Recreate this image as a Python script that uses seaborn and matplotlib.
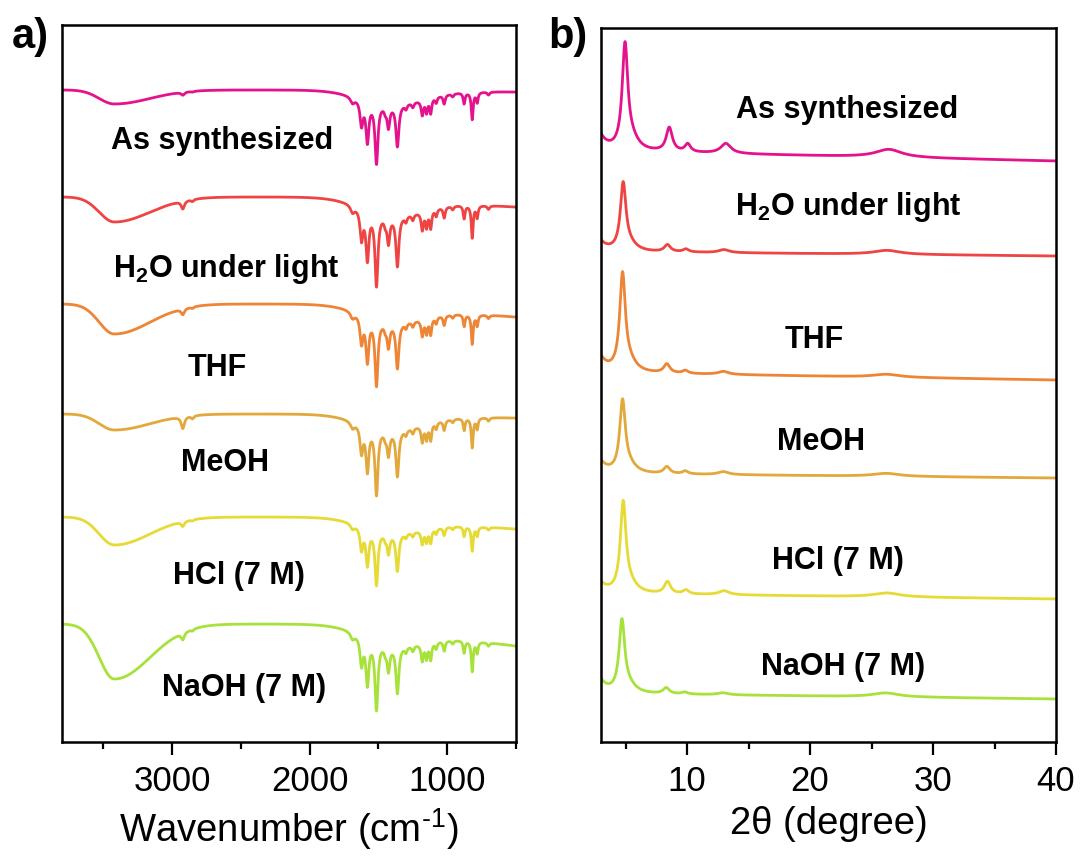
import numpy as np
import pandas as pd
import matplotlib
matplotlib.use("Agg")
import matplotlib.pyplot as plt
from matplotlib.ticker import MultipleLocator
import seaborn as sns

# ---------------------------------------------------------------- data
samples = ["As synthesized", "H$_2$O under light", "THF", "MeOH",
           "HCl (7 M)", "NaOH (7 M)"]
colors = ["#E4128C", "#EE4444", "#EE8536", "#E3A83C", "#E6DA34", "#A7E23A"]

# FTIR (a): stacked transmittance, offsets in a.u.
ir_level = [652, 545, 438, 328, 225, 118]        # level at 3800 cm-1
ir_oh_depth = [14, 25, 30, 16, 28, 55]            # O-H band near 3420 cm-1
ir_ch_depth = [3, 8, 6, 12, 5, 7]                 # C-H band near 2920 cm-1
ir_fp_scale = [1.0, 1.2, 1.09, 1.1, 0.9, 1.12]    # fingerprint intensity
ir_broad_depth = [13, 15, 14, 14, 12, 15]         # broad absorption 1700-1000
ir_tail_drop = [2, 10, 13, 4, 12, 22]             # low-wavenumber decline

fp_center = [1688, 1623, 1580, 1514, 1450, 1427, 1362, 1300, 1250, 1181,
             1150, 1120, 1080, 1022, 960, 877, 818, 782, 700]
fp_depth = [6, 25, 40, 60, 5, 22, 42, 5, 5, 15, 13, 15, 6, 9, 3, 11, 27, 10, 3]
fp_hwhm = [18, 13, 13, 13, 10, 12, 13, 10, 10, 10, 9, 9, 9, 9, 10, 8, 8, 8, 10]

# PXRD (b): stacked intensity, offsets in a.u.
xrd_pos = [4.95, 5.5, 8.55, 10.05, 13.15, 26.4]
xrd_fwhm = [0.55, 1.4, 0.6, 0.55, 1.0, 2.6]
xrd_shift = [0.0, -0.15, -0.2, -0.2, -0.15, -0.25]
xrd_height = [
    [103, 10, 24, 8, 10, 8],
    [66, 6, 7, 3, 3, 4],
    [95, 9, 9, 3, 3, 3],
    [70, 7, 7, 3, 3, 3],
    [88, 8, 12, 4, 4, 4],
    [70, 7, 6, 2, 2, 4],
]
xrd_low_angle = [15, 10, 15, 12, 10, 13]
xrd_end_level = [581, 486, 362, 264, 143, 43]
xrd_slope = [0.27, 0.12, 0.2, 0.12, 0.15, 0.15]

# ---------------------------------------------------------------- curves
wn = np.arange(3800.0, 499.0, -1.0)
tt = np.arange(3.0, 40.001, 0.02)


def lorentz(x, c, g):
    return 1.0 / (1.0 + ((x - c) / g) ** 2)


rows_ir = []
for i, name in enumerate(samples):
    oh_sig = np.where(wn > 3420, 110.0, 260.0)
    oh = ir_oh_depth[i] * np.exp(-0.5 * ((wn - 3420) / oh_sig) ** 2)
    ch = ir_ch_depth[i] * (lorentz(wn, 2922, 14) + 0.25 * lorentz(wn, 2852, 12))
    broad = ir_broad_depth[i] * np.exp(-0.5 * ((wn - 1400) / 230.0) ** 2)
    fp = sum(d * lorentz(wn, c, g) for c, d, g in zip(fp_center, fp_depth, fp_hwhm))
    tail = ir_tail_drop[i] * np.clip((1700 - wn) / 1200.0, 0, 1)
    y = ir_level[i] - oh - ch - broad - ir_fp_scale[i] * fp - tail
    rows_ir.append(pd.DataFrame({"x": wn, "y": y, "sample": name}))
ir_df = pd.concat(rows_ir, ignore_index=True)

rows_xrd = []
for i, name in enumerate(samples):
    bg = xrd_end_level[i] + xrd_slope[i] * (40 - tt)
    low = xrd_low_angle[i] * np.exp(-(tt - 3.0) / 0.6)
    pk = sum(h * lorentz(tt, p + xrd_shift[i], w / 2.0)
             for p, w, h in zip(xrd_pos, xrd_fwhm, xrd_height[i]))
    rows_xrd.append(pd.DataFrame({"x": tt, "y": bg + low + pk, "sample": name}))
xrd_df = pd.concat(rows_xrd, ignore_index=True)

# ---------------------------------------------------------------- style
sns.set_style("ticks")
plt.rcParams["font.family"] = ["Liberation Sans", "DejaVu Sans"]
plt.rcParams["mathtext.default"] = "regular"
for key in ("text.color", "axes.labelcolor", "xtick.color", "ytick.color",
            "axes.edgecolor"):
    plt.rcParams[key] = "black"

palette = dict(zip(samples, colors))
fig = plt.figure(figsize=(10.81, 8.6), dpi=100)
ax_a = fig.add_axes([0.0574, 0.1372, 0.4199, 0.8338])
ax_b = fig.add_axes([0.5560, 0.1372, 0.4209, 0.8302])

sns.lineplot(data=ir_df, x="x", y="y", hue="sample", palette=palette,
             sort=False, estimator=None, legend=False, linewidth=2.0, ax=ax_a)
sns.lineplot(data=xrd_df, x="x", y="y", hue="sample", palette=palette,
             sort=False, estimator=None, legend=False, linewidth=2.0, ax=ax_b)

ax_a.set_xlim(3800, 500)
ax_a.set_ylim(0, 717)
ax_b.set_xlim(3, 40)
ax_b.set_ylim(0, 714)

ax_a.xaxis.set_major_locator(MultipleLocator(1000))
ax_a.xaxis.set_minor_locator(MultipleLocator(500))
ax_b.xaxis.set_major_locator(MultipleLocator(10))
ax_b.xaxis.set_minor_locator(MultipleLocator(5))

for ax in (ax_a, ax_b):
    ax.set_yticks([])
    for sp in ax.spines.values():
        sp.set_linewidth(1.8)
        sp.set_color("black")
        sp.set_visible(True)
    ax.tick_params(axis="x", which="major", direction="out", length=9.5,
                   width=1.6, labelsize=25, pad=7, color="black",
                   labelcolor="black")
    ax.tick_params(axis="x", which="minor", direction="out", length=5,
                   width=1.6, color="black")
    ax.set_ylabel("")

ax_a.set_xlabel("Wavenumber (cm$^{\u20101}$)", fontsize=27.5, labelpad=6,
                color="black")
ax_b.set_xlabel("2θ (degree)", fontsize=27.5, labelpad=6, color="black")

lab_a = [(2638, 601), (2609, 473), (2674, 374), (2616, 279), (2514, 166), (2478, 54)]
lab_b = [(23.0, 632), (23.1, 535), (20.3, 402), (20.9, 300), (22.3, 181), (22.7, 75)]
for name, (x, y) in zip(samples, lab_a):
    ax_a.text(x, y, name, fontsize=22, fontweight="bold", ha="center",
              va="center", color="black")
for name, (x, y) in zip(samples, lab_b):
    ax_b.text(x, y, name, fontsize=22, fontweight="bold", ha="center",
              va="center", color="black")

fig.text(0.011, 0.944, "a)", fontsize=30, fontweight="bold", va="baseline",
         color="black")
fig.text(0.507, 0.944, "b)", fontsize=30, fontweight="bold", va="baseline",
         color="black")

fig.savefig("out.png", dpi=100, facecolor="white")
